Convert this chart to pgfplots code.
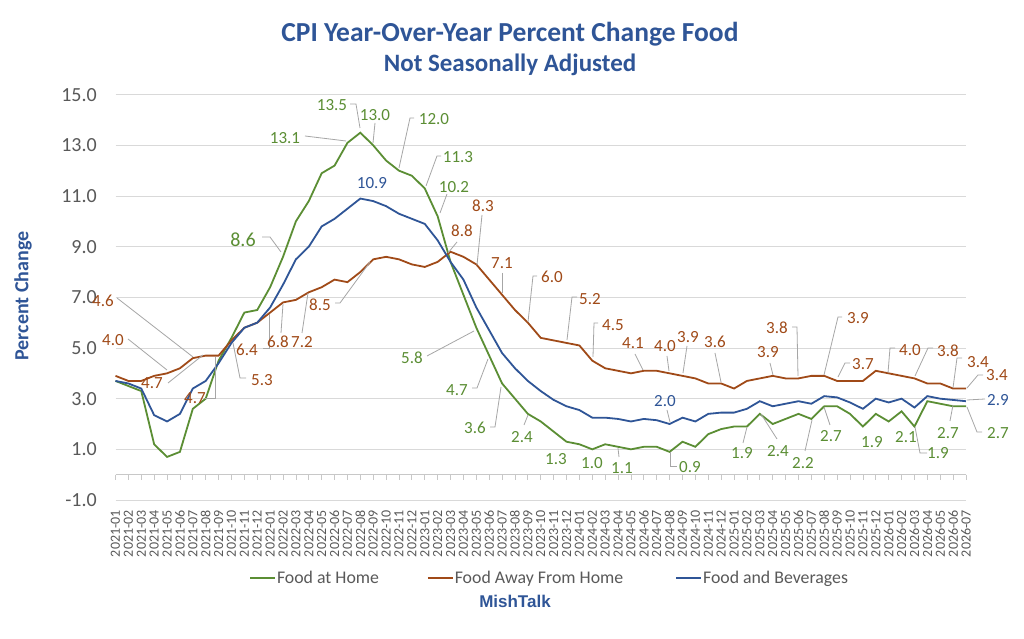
\documentclass[border=0pt]{standalone}
\usepackage{pgfplots}
\pgfplotsset{compat=1.18}
\usepackage{pgfplotstable}
\usepackage{fontspec}
\setmainfont{Carlito}
\newfontfamily\arialfont{Liberation Sans}
\definecolor{cG}{HTML}{5B8E34}
\definecolor{cB}{HTML}{A04A18}
\definecolor{cBl}{HTML}{2F5597}
\definecolor{cTitle}{HTML}{2F5597}
\definecolor{cTxt}{HTML}{595959}
\definecolor{cGrid}{HTML}{D9D9D9}
\definecolor{cAxis}{HTML}{C8C8C8}
\definecolor{cLead}{HTML}{A6A6A6}

\pgfplotstableread{
i home away bev
0 3.7 3.9 3.7
1 3.5 3.7 3.6
2 3.3 3.7 3.4
3 1.2 3.9 2.35
4 0.7 4.0 2.1
5 0.9 4.2 2.4
6 2.6 4.6 3.4
7 3.0 4.7 3.7
8 4.5 4.7 4.4
9 5.4 5.3 5.2
10 6.4 5.8 5.8
11 6.5 6.0 6.0
12 7.4 6.4 6.6
13 8.6 6.8 7.5
14 10.0 6.9 8.5
15 10.8 7.2 9.0
16 11.9 7.4 9.8
17 12.2 7.7 10.1
18 13.1 7.6 10.5
19 13.5 8.0 10.9
20 13.0 8.5 10.8
21 12.4 8.6 10.6
22 12.0 8.5 10.3
23 11.8 8.3 10.1
24 11.3 8.2 9.9
25 10.2 8.4 9.25
26 8.4 8.8 8.4
27 7.1 8.6 7.7
28 5.8 8.3 6.6
29 4.7 7.7 5.7
30 3.6 7.1 4.8
31 3.0 6.5 4.2
32 2.4 6.0 3.7
33 2.1 5.4 3.3
34 1.7 5.3 2.95
35 1.3 5.2 2.7
36 1.2 5.1 2.55
37 1.0 4.5 2.25
38 1.2 4.2 2.25
39 1.1 4.1 2.2
40 1.0 4.0 2.1
41 1.1 4.1 2.2
42 1.1 4.1 2.15
43 0.9 4.0 2.0
44 1.3 3.9 2.25
45 1.1 3.8 2.1
46 1.6 3.6 2.4
47 1.8 3.6 2.45
48 1.9 3.4 2.45
49 1.9 3.7 2.6
50 2.4 3.8 2.9
51 2.0 3.9 2.7
52 2.2 3.8 2.8
53 2.4 3.8 2.9
54 2.2 3.9 2.8
55 2.7 3.9 3.1
56 2.7 3.7 3.05
57 2.4 3.7 2.85
58 1.9 3.7 2.6
59 2.4 4.1 3.0
60 2.1 4.0 2.85
61 2.5 3.9 3.0
62 1.9 3.8 2.65
63 2.9 3.6 3.1
64 2.8 3.6 3.0
65 2.7 3.4 2.95
66 2.7 3.4 2.9
}\cpidata

\tikzset{
  lbl/.style={font=\fontsize{17bp}{20bp}\selectfont, inner sep=0pt, anchor=center},
  lG/.style={lbl, text=cG},
  lB/.style={lbl, text=cB},
  lL/.style={lbl, text=cBl},
  lead/.style={draw=cLead, line width=0.8bp},
}

\begin{document}
\begin{tikzpicture}
\fill[white] (0,0) rectangle (1024bp,639bp);
\begin{axis}[
  at={(115.5bp,139bp)}, anchor=south west,
  scale only axis, width=850.5bp, height=405.3bp,
  xmin=0, xmax=66, ymin=-1, ymax=15,
  ytick={-1,1,...,15},
  xtick={0,...,66},
  xticklabels={2021-01,2021-02,2021-03,2021-04,2021-05,2021-06,2021-07,2021-08,2021-09,2021-10,2021-11,2021-12,
    2022-01,2022-02,2022-03,2022-04,2022-05,2022-06,2022-07,2022-08,2022-09,2022-10,2022-11,2022-12,
    2023-01,2023-02,2023-03,2023-04,2023-05,2023-06,2023-07,2023-08,2023-09,2023-10,2023-11,2023-12,
    2024-01,2024-02,2024-03,2024-04,2024-05,2024-06,2024-07,2024-08,2024-09,2024-10,2024-11,2024-12,
    2025-01,2025-02,2025-03,2025-04,2025-05,2025-06,2025-07,2025-08,2025-09,2025-10,2025-11,2025-12,
    2026-01,2026-02,2026-03,2026-04,2026-05,2026-06,2026-07},
  axis line style={draw=none},
  major tick length=0pt,
  ymajorgrids, grid style={cGrid, line width=0.9bp},
  tick label style={text=cTxt},
  /pgf/number format/assume math mode=true,
  y tick label style={/pgf/number format/fixed, /pgf/number format/fixed zerofill, /pgf/number format/precision=1},
  yticklabel style={anchor=east, inner sep=0pt, xshift=-18.5bp, font=\fontsize{20bp}{24bp}\selectfont},
  xticklabel style={rotate=90, anchor=east, inner sep=0pt, font=\fontsize{14bp}{16bp}\selectfont},
  xticklabel shift=10bp,
  legend columns=3,
  legend style={at={(0.157,-0.1917)}, anchor=west, draw=none, fill=none, inner sep=0pt,
    font=\fontsize{17.8bp}{20bp}\selectfont, text=cTxt, nodes={inner sep=1bp},
    /tikz/column 2/.style={column sep=47bp},
    /tikz/column 4/.style={column sep=51bp}},
  legend image code/.code={\draw[#1, line width=1.8bp] (0bp,0bp) -- (25bp,0bp);},
  clip=false,
]
\draw[cAxis, line width=0.9bp] (axis cs:0,0) -- (axis cs:66,0);
\pgfplotsinvokeforeach{0,...,66}{\draw[cAxis, line width=0.8bp] (axis cs:#1,0) -- ([yshift=-5bp]axis cs:#1,0);}
\addplot[cG, line width=1.8bp] table[x=i, y=home] {\cpidata};
\addlegendentry{Food at Home}
\addplot[cB, line width=1.8bp] table[x=i, y=away] {\cpidata};
\addlegendentry{Food Away From Home}
\addplot[cBl, line width=1.8bp] table[x=i, y=bev] {\cpidata};
\addlegendentry{Food and Beverages}
\end{axis}

\begin{scope}[yshift=639bp, x=1bp, y=-1bp]
% titles
\node[anchor=base, font=\bfseries\fontsize{27.5bp}{30bp}\selectfont, text=cTitle] at (510,41.7) {CPI Year-Over-Year Percent Change Food};
\node[anchor=base, font=\bfseries\fontsize{25bp}{28bp}\selectfont, text=cTitle] at (510,71.7) {Not Seasonally Adjusted};
\node[rotate=90, font=\bfseries\fontsize{20bp}{24bp}\selectfont, text=cTitle] at (23,296) {Percent Change};
\node[anchor=base, font=\arialfont\bfseries\fontsize{17bp}{20bp}\selectfont, text=cTitle] at (515,607.7) {MishTalk};
% green labels
\node[lG] at (332,105) {13.5}; \draw[lead] (350,104) -- (356,104) -- (360,128);
\node[lG] at (375,115) {13.0}; \draw[lead] (375,123) -- (373,143);
\node[lG] at (285,138) {13.1}; \draw[lead] (305,136) -- (346,141);
\node[lG, font=\fontsize{20bp}{24bp}\selectfont] at (243,240) {8.6}; \draw[lead] (262,237) -- (270,237) -- (281,252);
\node[lG] at (434,119) {12.0}; \draw[lead] (414,118) -- (410,118) -- (399,168);
\node[lG] at (458,157) {11.3}; \draw[lead] (441,156) -- (437,156) -- (426,186);
\node[lG] at (454,187) {10.2}; \draw[lead] (447,194) -- (440,213);
\node[lG] at (412,358) {5.8}; \draw[lead] (427,356) -- (474,331);
\node[lG] at (457,390) {4.7}; \draw[lead] (472,388) -- (477,388) -- (488,359);
\node[lG] at (475,428) {3.6}; \draw[lead] (490,427) -- (495,427) -- (501,387);
\node[lG] at (522,437) {2.4}; \draw[lead] (524,425) -- (528,415);
\node[lG] at (556,459) {1.3};
\node[lG] at (592,463) {1.0};
\node[lG] at (622,468) {1.1}; \draw[lead] (618,448) -- (619,457);
\node[lG] at (690,467) {0.9}; \draw[lead] (670,452) -- (670,466) -- (677,466);
\node[lG] at (742,453) {1.9}; \draw[lead] (743,443) -- (747,427);
\node[lG] at (778,451) {2.4}; \draw[lead] (777,439) -- (761,414);
\node[lG] at (803,463) {2.2}; \draw[lead] (805,451) -- (812,420);
\node[lG] at (831,436) {2.7}; \draw[lead] (830,425) -- (824,407);
\node[lG] at (872,442) {1.9};
\node[lG] at (906,437) {2.1};
\node[lG] at (938,453) {1.9}; \draw[lead] (927,453) -- (920,453) -- (915,427);
\node[lG] at (948,433) {2.7}; \draw[lead] (950,421) -- (953,405);
\node[lG] at (998,433) {2.7}; \draw[lead] (982,432) -- (977,432) -- (967,407);
% brown labels
\node[lB] at (103,301) {4.6}; \draw[lead] (117,298) -- (193,357);
\node[lB] at (113,340) {4.0}; \draw[lead] (128,339) -- (167,370);
\node[lB] at (152,383) {4.7}; \draw[lead] (168,383) -- (203,355);
\node[lB] at (195,398) {4.7}; \draw[lead] (205,398) -- (215,398) -- (215,357);
\node[lB] at (262,380) {5.3}; \draw[lead] (246,378) -- (240,378) -- (233,343);
\node[lB] at (247,350) {6.4}; \draw[lead] (263,348) -- (269,348) -- (269,314);
\node[lB] at (278,342) {6.8}; \draw[lead] (281,333) -- (283,304);
\node[lB] at (302,342) {7.2}; \draw[lead] (302,333) -- (308,293);
\node[lB] at (320,305) {8.5}; \draw[lead] (335,303) -- (340,303) -- (370,262);
\node[lB] at (462,231) {8.8}; \draw[lead] (457,242) -- (448,253);
\node[lB] at (483,206) {8.3}; \draw[lead] (482,215) -- (477,265);
\node[lB] at (502,263) {7.1}; \draw[lead] (502,273) -- (502,293);
\node[lB] at (552,277) {6.0}; \draw[lead] (537,276) -- (533,276) -- (528,322);
\node[lB] at (590,299) {5.2}; \draw[lead] (577,297) -- (572,297) -- (567,340);
\node[lB] at (613,325) {4.5}; \draw[lead] (598,323) -- (594,323) -- (593,357);
\node[lB] at (633,343) {4.1}; \draw[lead] (635,354) -- (643,370);
\node[lB] at (665,346) {4.0}; \draw[lead] (667,356) -- (669,371);
\node[lB] at (688,337) {3.9}; \draw[lead] (687,346) -- (683,373);
\node[lB] at (715,342) {3.6}; \draw[lead] (715,353) -- (721,382);
\node[lB] at (768,352) {3.9}; \draw[lead] (770,363) -- (773,375);
\node[lB] at (777,328) {3.8}; \draw[lead] (792,327) -- (797,327) -- (798,376);
\node[lB] at (858,318) {3.9}; \draw[lead] (842,317) -- (838,317) -- (824,375);
\node[lB] at (863,364) {3.7}; \draw[lead] (850,363) -- (845,363) -- (838,377);
\node[lB] at (910,350) {4.0}; \draw[lead] (895,348) -- (890,348) -- (888,373);
\node[lB] at (948,351) {3.8}; \draw[lead] (933,348) -- (928,348) -- (915,376);
\node[lB] at (978,362) {3.4}; \draw[lead] (962,358) -- (957,358) -- (953,388);
\node[lB] at (997,375) {3.4}; \draw[lead] (983,375) -- (978,375) -- (967,388);
% blue labels
\node[lL] at (372,183) {10.9};
\node[lL] at (665,401) {2.0}; \draw[lead] (667,410) -- (670,422);
\node[lL] at (998,400) {2.9}; \draw[lead] (985,399) -- (967,400);
\end{scope}
\pgfresetboundingbox
\useasboundingbox (0,0) rectangle (1024bp,639bp);
\end{tikzpicture}
\end{document}
